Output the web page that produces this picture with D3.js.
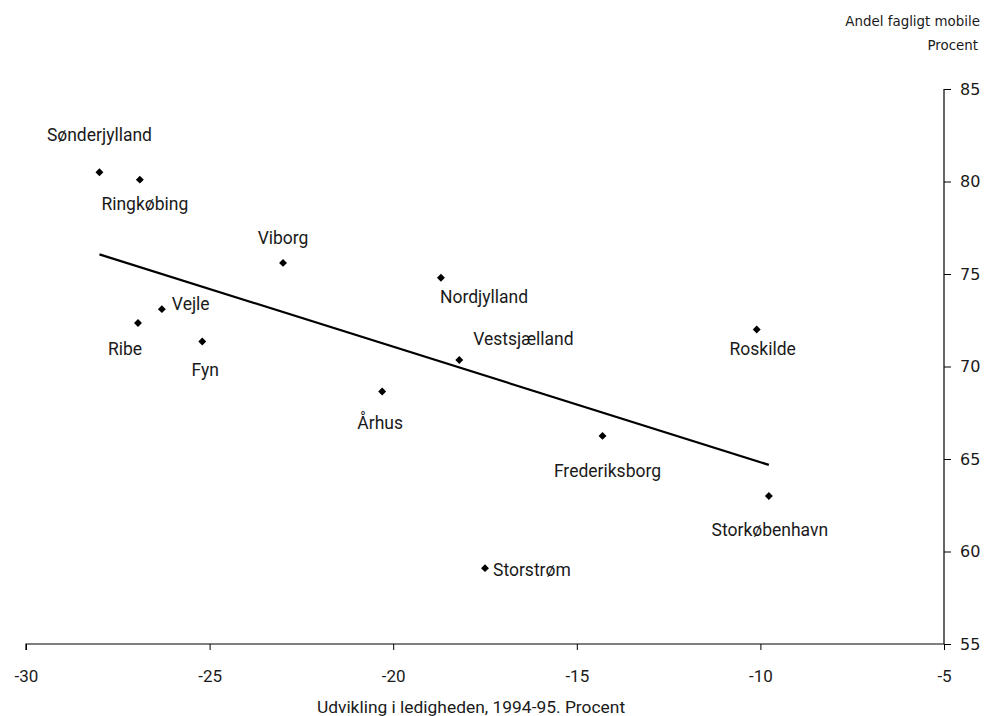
<!DOCTYPE html>
<html>
<head>
<meta charset="utf-8">
<script src="https://cdn.jsdelivr.net/npm/d3@7"></script>
<style>
  html, body { margin: 0; padding: 0; background: #fff; }
  svg { display: block; }
  .lbl { font-family: "Roboto", sans-serif; font-size: 17.5px; fill: #1a1a1a; }
  .ytitle { font-family: "DejaVu Sans", Verdana, sans-serif; font-size: 13.4px; fill: #1a1a1a; }
  .xtitle { font-family: "Roboto", sans-serif; font-size: 17.4px; fill: #1a1a1a; }
</style>
</head>
<body>
<svg id="chart" width="992" height="716"></svg>
<script>
// Counties: change in unemployment 1994-95 (%) vs. share occupationally mobile (%)
const counties = ["Sønderjylland", "Ringkøbing", "Viborg", "Nordjylland", "Vejle", "Ribe", "Fyn",
                  "Vestsjælland", "Roskilde", "Århus", "Frederiksborg", "Storkøbenhavn", "Storstrøm"];
const unemploymentChange = [-28.0, -26.9, -23.0, -18.7, -26.3, -26.95, -25.2, -18.2, -10.1, -20.3, -14.3, -9.77, -17.5];
const mobileShare = [80.5, 80.1, 75.6, 74.8, 73.1, 72.35, 71.35, 70.35, 72.0, 68.65, 66.25, 63.0, 59.1];

const xTicks = [-30, -25, -20, -15, -10, -5];
const yTicks = [55, 60, 65, 70, 75, 80, 85];

// Label placement around each marker: anchor, dx, dy (baseline)
const labelPlacement = {
  "Sønderjylland": ["middle", 0, -31],
  "Ringkøbing":    ["middle", 5, 30],
  "Viborg":        ["middle", 0, -19],
  "Nordjylland":   ["start", -1, 25],
  "Vejle":         ["start", 10, 1],
  "Ribe":          ["middle", -13, 32],
  "Fyn":           ["middle", 3, 34],
  "Vestsjælland":  ["start", 14, -15],
  "Roskilde":      ["middle", 6, 25],
  "Århus":         ["middle", -2, 38],
  "Frederiksborg": ["middle", 5, 41],
  "Storkøbenhavn": ["middle", 1, 40],
  "Storstrøm":     ["start", 8, 8]
};

const svg = d3.select("#chart");
const x = d3.scaleLinear().domain([-30, -5]).range([26, 944]);
const y = d3.scaleLinear().domain([55, 85]).range([644, 89]);

// x axis
const gx = svg.append("g")
  .attr("transform", `translate(0,${y(55)})`)
  .call(d3.axisBottom(x).tickValues(xTicks).tickSize(6).tickPadding(20).tickFormat(d3.format("d")));
gx.select(".domain").attr("d", `M${x(-30)},6V0H${x(-5)}`).attr("stroke", "#000").attr("stroke-width", 1.2);
gx.selectAll(".tick line").attr("stroke", "#000");
gx.selectAll(".tick text").attr("fill", "#1a1a1a").style("font-size", "17px")
  .style("font-family", '"Roboto", sans-serif')
  .text(d => String(d));

// y axis on the right
const gy = svg.append("g")
  .attr("transform", `translate(${x(-5)},0)`)
  .call(d3.axisRight(y).tickValues(yTicks).tickSize(7).tickPadding(9));
gy.select(".domain").attr("d", `M0,${y(85)}V${y(55)}`).attr("stroke", "#000").attr("stroke-width", 1.2);
gy.selectAll(".tick line").attr("stroke", "#000");
gy.selectAll(".tick text").attr("fill", "#1a1a1a").style("font-size", "16px")
  .style("font-family", '"DejaVu Sans", Verdana, sans-serif');

// axis titles
svg.append("text").attr("class", "xtitle")
  .attr("x", 471).attr("y", 713).attr("text-anchor", "middle")
  .text("Udvikling i ledigheden, 1994-95. Procent");
svg.append("text").attr("class", "ytitle")
  .attr("x", 980).attr("y", 26).attr("text-anchor", "end")
  .text("Andel fagligt mobile");
svg.append("text").attr("class", "ytitle")
  .attr("x", 978).attr("y", 50).attr("text-anchor", "end")
  .text("Procent");

// least-squares trend line across the observed x range
const n = counties.length;
const mx = d3.mean(unemploymentChange), my = d3.mean(mobileShare);
let sxy = 0, sxx = 0;
for (let i = 0; i < n; i++) {
  sxy += (unemploymentChange[i] - mx) * (mobileShare[i] - my);
  sxx += (unemploymentChange[i] - mx) ** 2;
}
const slope = sxy / sxx, intercept = my - slope * mx;
const xExt = d3.extent(unemploymentChange);
svg.append("path")
  .datum(xExt.map(v => [v, intercept + slope * v]))
  .attr("d", d3.line().x(d => x(d[0])).y(d => y(d[1])))
  .attr("fill", "none").attr("stroke", "#000").attr("stroke-width", 2.2);

// markers
const pts = counties.map((c, i) => ({ name: c, xv: unemploymentChange[i], yv: mobileShare[i] }));
svg.append("g").selectAll("path").data(pts).join("path")
  .attr("transform", d => `translate(${x(d.xv)},${y(d.yv)})`)
  .attr("d", d3.symbol(d3.symbolDiamond2, 40)())
  .attr("fill", "#000");

// labels
svg.append("g").selectAll("text").data(pts).join("text")
  .attr("class", "lbl")
  .attr("text-anchor", d => labelPlacement[d.name][0])
  .attr("x", d => x(d.xv) + labelPlacement[d.name][1])
  .attr("y", d => y(d.yv) + labelPlacement[d.name][2])
  .text(d => d.name);
</script>
</body>
</html>
